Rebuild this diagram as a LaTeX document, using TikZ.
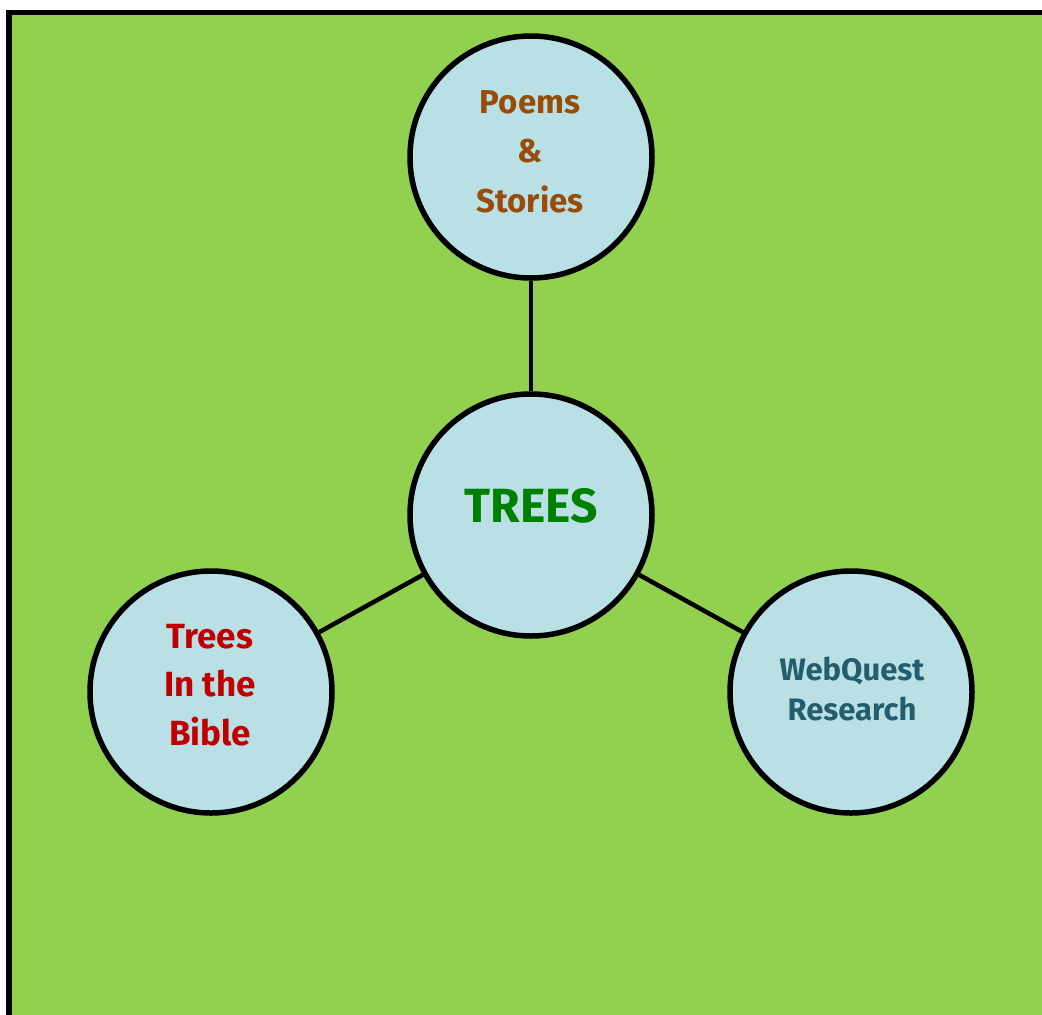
\documentclass[tikz,border=0pt]{standalone}
\usepackage{fontspec}
\setmainfont{Fira Sans}
\definecolor{bggreen}{HTML}{92D050}
\definecolor{bubble}{HTML}{B9E0E5}
\definecolor{poemc}{HTML}{994C0A}
\definecolor{biblec}{HTML}{C00000}
\definecolor{webc}{HTML}{245D6E}
\definecolor{treec}{HTML}{008000}
\begin{document}
\begin{tikzpicture}[x=1pt,y=-1pt,
  bubblenode/.style={circle,draw=black,line width=5.5pt,fill=bubble,minimum size=242pt,inner sep=0pt},
  link/.style={line width=4.5pt,draw=black},
  txt/.style={align=center,anchor=base,font=\bfseries}]
\useasboundingbox (0,0) rectangle (1042,1015);
\fill[black] (6,10) rectangle (1042,1015);
\fill[bggreen] (12,15) rectangle (1042,1015);
\node[bubblenode] (top) at (531,157) {};
\node[bubblenode] (center) at (531,515) {};
\node[bubblenode] (left) at (211,692) {};
\node[bubblenode] (right) at (851,692) {};
\draw[link] (top) -- (center);
\draw[link] (center) -- (left);
\draw[link] (center) -- (right);
\node[txt,text=treec,font=\bfseries\fontsize{48}{56}\selectfont] (ttrees) at (531,522) {TREES};
\node[txt,text=poemc,font=\bfseries\fontsize{33}{49.5}\selectfont] (tpoems) at (530,212) {Poems\\\&\\Stories};
\node[txt,text=biblec,font=\bfseries\fontsize{35}{48.5}\selectfont] (tbible) at (210,745) {Trees\\In the\\Bible};
\node[txt,text=webc,font=\bfseries\fontsize{31}{40}\selectfont] (tweb) at (852,720) {WebQuest\\Research};
\end{tikzpicture}
\end{document}
